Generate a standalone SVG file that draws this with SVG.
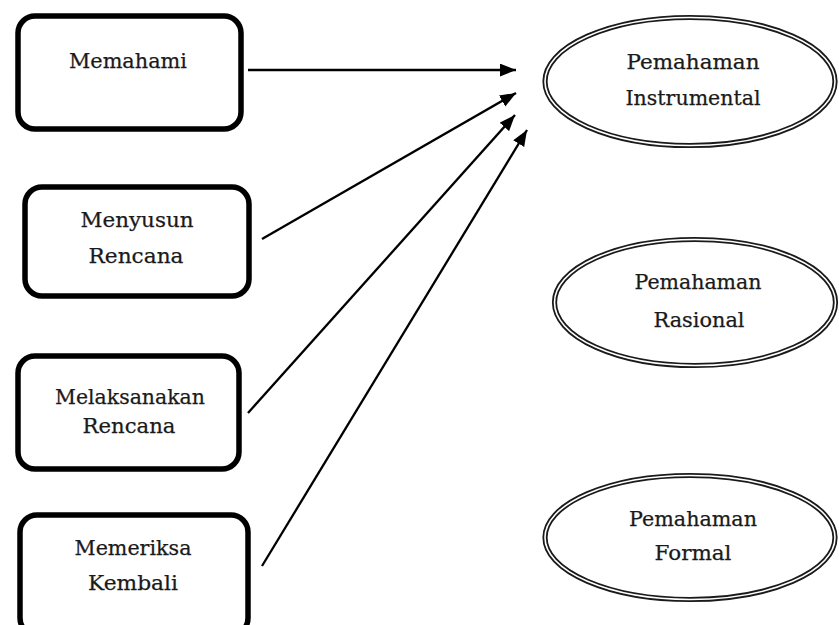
<svg xmlns="http://www.w3.org/2000/svg" width="839" height="625" viewBox="0 0 839 625">
<defs>
<style>
.box{fill:#fff;stroke:#000;stroke-width:5.5}
.ell{fill:#fff;stroke:#1a1a1a;stroke-width:5.2}
.ellin{fill:none;stroke:#fff;stroke-width:1.6}
.t{font-family:"DejaVu Serif","Liberation Serif",serif;font-size:21px;fill:#1a1a1a;stroke:#1a1a1a;stroke-width:0.25;text-anchor:middle}
.c{stroke:#000;stroke-width:2.3;fill:none;marker-end:url(#ah)}
</style>
<marker id="ah" viewBox="0 0 15 12" refX="15" refY="6" markerWidth="16" markerHeight="13" markerUnits="userSpaceOnUse" orient="auto">
<path d="M0,0 L15,6 L0,12 z" fill="#000"/>
</marker>
</defs>
<rect width="839" height="625" fill="#fff"/>
<g id="connectors">
<line class="c" x1="248" y1="70" x2="516" y2="70"/>
<line class="c" x1="262" y1="239" x2="516" y2="93"/>
<line class="c" x1="248" y1="413" x2="515" y2="115"/>
<line class="c" x1="262" y1="566" x2="527" y2="130"/>
</g>
<g id="memahami">
<rect class="box" x="18" y="16" width="223" height="113" rx="17"/>
<text class="t" x="128" y="68" textLength="118" lengthAdjust="spacingAndGlyphs">Memahami</text>
</g>
<g id="menyusun">
<rect class="box" x="25" y="187" width="224" height="109" rx="17"/>
<text class="t" x="137" y="227" textLength="113" lengthAdjust="spacingAndGlyphs">Menyusun</text>
<text class="t" x="136" y="263" textLength="95" lengthAdjust="spacingAndGlyphs">Rencana</text>
</g>
<g id="melaksanakan">
<rect class="box" x="18" y="356" width="221" height="113" rx="17"/>
<text class="t" x="130" y="404" textLength="150" lengthAdjust="spacingAndGlyphs">Melaksanakan</text>
<text class="t" x="129" y="433" textLength="93" lengthAdjust="spacingAndGlyphs">Rencana</text>
</g>
<g id="memeriksa">
<rect class="box" x="20" y="515" width="228" height="120" rx="17"/>
<text class="t" x="133" y="555" textLength="117" lengthAdjust="spacingAndGlyphs">Memeriksa</text>
<text class="t" x="133" y="590" textLength="90" lengthAdjust="spacingAndGlyphs">Kembali</text>
</g>
<g id="instrumental">
<ellipse class="ell" cx="690" cy="81.5" rx="145" ry="64"/>
<ellipse class="ellin" cx="690" cy="81.5" rx="145" ry="64"/>
<text class="t" x="693" y="69" textLength="133" lengthAdjust="spacingAndGlyphs">Pemahaman</text>
<text class="t" x="693" y="105" textLength="135" lengthAdjust="spacingAndGlyphs">Instrumental</text>
</g>
<g id="rasional">
<ellipse class="ell" cx="695" cy="302.5" rx="140.5" ry="63"/>
<ellipse class="ellin" cx="695" cy="302.5" rx="140.5" ry="63"/>
<text class="t" x="698" y="289" textLength="127" lengthAdjust="spacingAndGlyphs">Pemahaman</text>
<text class="t" x="699" y="327" textLength="91" lengthAdjust="spacingAndGlyphs">Rasional</text>
</g>
<g id="formal">
<ellipse class="ell" cx="690" cy="537.5" rx="145" ry="62"/>
<ellipse class="ellin" cx="690" cy="537.5" rx="145" ry="62"/>
<text class="t" x="693" y="526" textLength="128" lengthAdjust="spacingAndGlyphs">Pemahaman</text>
<text class="t" x="693" y="560" textLength="77" lengthAdjust="spacingAndGlyphs">Formal</text>
</g>
</svg>
